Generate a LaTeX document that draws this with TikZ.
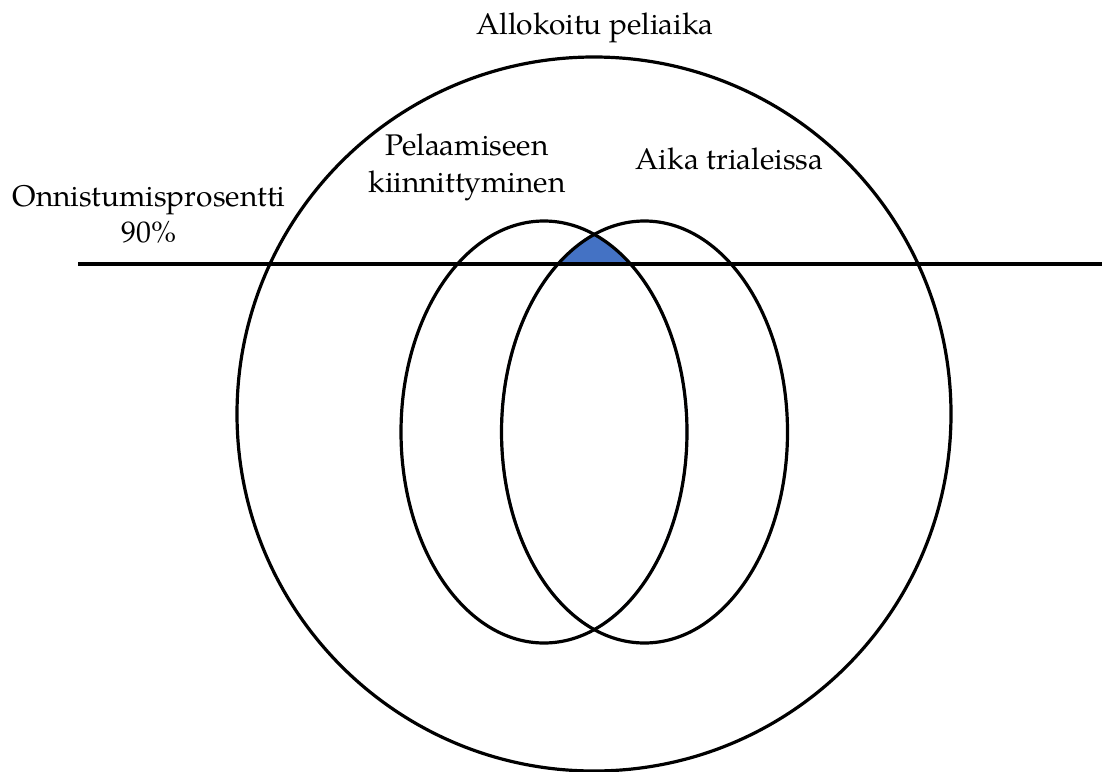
\documentclass[tikz,border=0pt]{standalone}
\usepackage{fontspec}
\setmainfont{TeX Gyre Pagella}
\definecolor{venblue}{HTML}{4472C4}
\definecolor{venedge}{HTML}{2F528F}
\tikzset{
  outline/.style={draw=black, line width=2.4pt},
  lbl/.style={inner sep=0pt, text depth=0pt, align=center, font=\fontsize{22.4}{27.4}\selectfont},
}
\begin{document}
\begin{tikzpicture}[x=0.75pt, y=-0.75pt]
\useasboundingbox (0,0) rectangle (1102,771);
\fill[white] (0,0) rectangle (1102,771);
% shaded intersection above the line
\begin{scope}
  \clip (544,432) ellipse [x radius=107.25pt, y radius=158.25pt];
  \clip (644.5,432) ellipse [x radius=107.25pt, y radius=158.25pt];
  \fill[venblue] (0,0) rectangle (1102,264);
  \draw[venedge, line width=2pt] (544,432) ellipse [x radius=107.25pt, y radius=158.25pt];
  \draw[venedge, line width=2pt] (644.5,432) ellipse [x radius=107.25pt, y radius=158.25pt];
\end{scope}
% outlines
\draw[outline] (594,414) circle [radius=267.75pt];
\draw[outline] (544,432) ellipse [x radius=107.25pt, y radius=158.25pt];
\draw[outline] (644.5,432) ellipse [x radius=107.25pt, y radius=158.25pt];
\coordinate (lineL) at (78,264);
\coordinate (lineR) at (1102,264);
\draw[outline] (lineL) -- (lineR);
% labels
\node[lbl, anchor=south] (tot) at (595,35) {Allokoitu peliaika};
\node[lbl, anchor=south] (succ) at (149,243) {Onnistumisprosentti\\90\%};
\node[lbl, anchor=south] (eng) at (467,192.5) {Pelaamiseen\\kiinnittyminen};
\node[lbl, anchor=south] (trial) at (729.5,170) {Aika trialeissa};
\end{tikzpicture}
\end{document}
